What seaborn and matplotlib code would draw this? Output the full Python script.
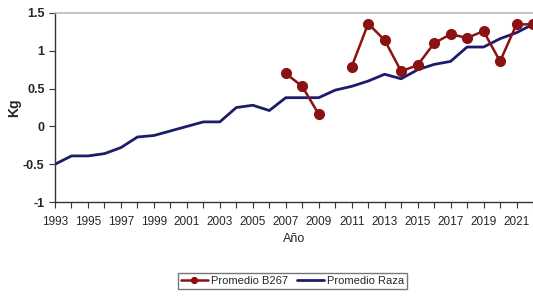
import numpy as np
import pandas as pd
import matplotlib
matplotlib.use("Agg")
import matplotlib.pyplot as plt
import seaborn as sns

years = list(range(1993, 2023))
raza = [-0.50, -0.39, -0.39, -0.36, -0.28, -0.14, -0.12, -0.06, 0.00, 0.06,
        0.06, 0.25, 0.28, 0.21, 0.38, 0.38, 0.38, 0.48, 0.53, 0.60,
        0.69, 0.63, 0.75, 0.82, 0.86, 1.05, 1.05, 1.16, 1.24, 1.35]
b267_years = list(range(2007, 2023))
b267 = [0.70, 0.53, 0.16, np.nan, 0.79, 1.36, 1.14, 0.73, 0.81, 1.10,
        1.22, 1.17, 1.26, 0.86, 1.35, 1.35]
ytick_vals = [-1, -0.5, 0, 0.5, 1, 1.5]
ytick_labels = ["-1", "-0.5", "0", "0.5", "1", "1.5"]
xtick_vals = list(range(1993, 2022, 2))

sns.set_style("white")
plt.rcParams["font.family"] = ["Liberation Sans", "DejaVu Sans"]

fig = plt.figure(figsize=(5.33, 2.98), dpi=100)
ax = fig.add_axes([0.1032, 0.322, 0.8968, 0.6344])

red = "#8b1212"
navy = "#1c1c6b"

df_b = pd.DataFrame({"year": b267_years, "val": b267})
df_r = pd.DataFrame({"year": years, "val": raza})

ax.plot(df_b["year"], df_b["val"], color=red, lw=1.8, marker="o", ms=7,
        mec=red, mfc=red, label="Promedio B267", zorder=3)
sns.lineplot(data=df_r, x="year", y="val", color=navy, lw=2.0, ax=ax,
             label="Promedio Raza", zorder=2, legend=False)

ax.set_xlim(1993, 2022)
ax.set_ylim(-1, 1.5)
ax.set_yticks(ytick_vals)
ax.set_yticklabels(ytick_labels, fontsize=9, fontweight="bold")
ax.set_xticks(xtick_vals)
ax.set_xticks(years, minor=True)
ax.set_xticklabels([str(y) for y in xtick_vals], fontsize=8.5)
ax.tick_params(axis="both", which="both", direction="out", length=4, width=0.8,
               color="#333333", bottom=True, left=True)
ax.tick_params(axis="x", pad=6)
ax.set_xlabel("Año", fontsize=9, labelpad=4)
ax.set_ylabel("Kg", fontsize=10, fontweight="bold", labelpad=1)

for s in ["left", "bottom"]:
    ax.spines[s].set_color("#333333")
    ax.spines[s].set_linewidth(1.0)
ax.spines["top"].set_color("#bbbbbb")
ax.spines["top"].set_linewidth(1.2)
ax.spines["right"].set_visible(False)

handles, labels = ax.get_legend_handles_labels()
fig.legend(handles, labels, loc="center", bbox_to_anchor=(0.549, 0.057),
           ncol=2, frameon=True, fontsize=8, fancybox=False, edgecolor="#555555",
           handlelength=2.4, handletextpad=0.3, columnspacing=0.8,
           borderpad=0.3, markerscale=0.6)

fig.savefig("out.png", dpi=100)
